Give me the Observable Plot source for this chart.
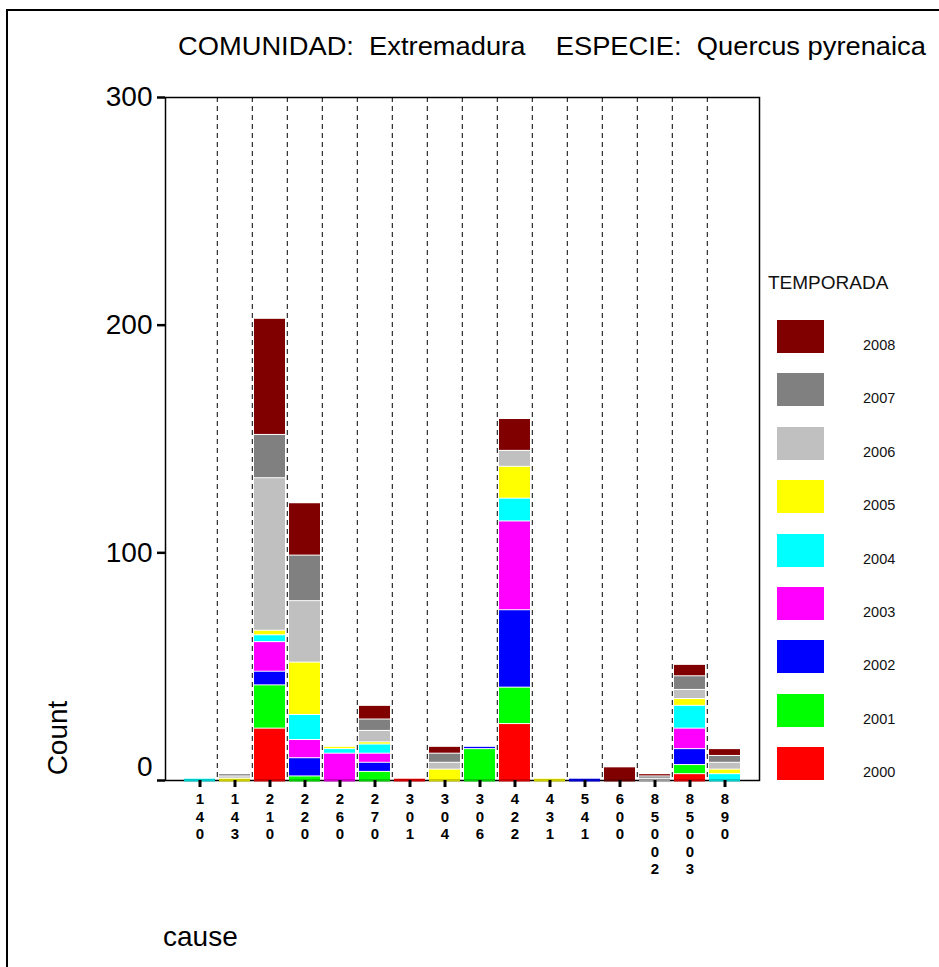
<!DOCTYPE html>
<html>
<head>
<meta charset="utf-8">
<script src="https://cdn.jsdelivr.net/npm/d3@7"></script>
<script src="https://cdn.jsdelivr.net/npm/@observablehq/plot@0.6"></script>
<style>
  body { margin: 0; background: #fff; font-family: Arial, "Liberation Sans", sans-serif; }
  #page { position: relative; width: 939px; height: 967px; overflow: hidden; background: #fff; }
  #border { position: absolute; left: 6px; top: 9px; width: 2000px; height: 2000px; border-left: 2px solid #000; border-top: 2px solid #000; }
  #chart { position: absolute; left: 0; top: 0; }
  #title { position: absolute; left: 178px; top: 31px; font-size: 26px; white-space: pre; color: #000; transform: scaleX(1.05); transform-origin: left center; }
  #ylab { position: absolute; left: 58px; top: 738px; font-size: 28px; transform: translate(-50%, -50%) rotate(-90deg); white-space: pre; }
  #xlab { position: absolute; left: 163px; top: 921px; font-size: 28px; white-space: pre; }
  #legend { position: absolute; left: 768px; top: 272px; }
  #legend .lt { font-size: 19px; height: 48px; color: #111; }
  #legend .item { position: relative; height: 53.4px; }
  #legend .sw { position: absolute; left: 9px; top: 0; width: 47px; height: 33px; }
  #legend .lab { position: absolute; left: 95px; top: 17px; font-size: 14.5px; color: #111; }
</style>
</head>
<body>
<div id="page">
  <div id="border"></div>
  <div id="chart"></div>
  <div id="title">COMUNIDAD:  Extremadura    ESPECIE:  Quercus pyrenaica</div>
  <div id="ylab">Count</div>
  <div id="xlab">cause</div>
  <div id="legend"></div>
</div>
<script>
// ---- data ----
const causes = ["140","143","210","220","260","270","301","304","306","422","431","541","600","85002","85003","890"];
const years = ["2000","2001","2002","2003","2004","2005","2006","2007","2008"];
const yearColors = ["#FF0000","#00FF00","#0000FF","#FF00FF","#00FFFF","#FFFF00","#C0C0C0","#808080","#800000"];
//                 140 143 210 220 260 270 301 304 306 422 431 541 600 85002 85003 890
const c2000 =     [  0,  0, 23,  0,  0,  0,  1,  0,  0, 25,  0,  0,  0,  0,  3,  0];
const c2001 =     [  0,  0, 19,  2,  0,  4,  0,  0, 14, 16,  0,  0,  0,  0,  4,  0];
const c2002 =     [  0,  0,  6,  8,  0,  4,  0,  0,  1, 34,  0,  1,  0,  0,  7,  0];
const c2003 =     [  0,  0, 13,  8, 12,  4,  0,  0,  0, 39,  0,  0,  0,  0,  9,  0];
const c2004 =     [  1,  0,  3, 11,  2,  4,  0,  0,  0, 10,  0,  0,  0,  0, 10,  3];
const c2005 =     [  0,  1,  2, 23,  1,  1,  0,  5,  0, 14,  1,  0,  0,  0,  3,  2];
const c2006 =     [  0,  1, 67, 27,  0,  5,  0,  3,  0,  7,  0,  0,  0,  1,  4,  3];
const c2007 =     [  0,  1, 19, 20,  0,  5,  0,  4,  0,  0,  0,  0,  0,  1,  6,  3];
const c2008 =     [  0,  0, 51, 23,  0,  6,  0,  3,  0, 14,  0,  0,  6,  1,  5,  3];
const yTicks = [0, 100, 200, 300];

const series = [c2000, c2001, c2002, c2003, c2004, c2005, c2006, c2007, c2008];
const data = [];
years.forEach((yr, j) => causes.forEach((c, i) => data.push({cause: c, year: yr, count: series[j][i]})));

// baseline colour per cause: first non-zero season, darkened
const bottoms = causes.map((c, i) => {
  const j = series.findIndex(s => s[i] > 0);
  return {cause: c, color: d3.color(yearColors[j]).darker(0.6).formatHex()};
});

// ---- layout ----
const W = 939, H = 967, mL = 165, mR = 180, mT = 97, mB = 187;
const pIn = 0.128, pOut = 0.45;
const step = (W - mL - mR) / (causes.length - pIn + 2 * pOut);

const chart = Plot.plot({
  width: W, height: H,
  marginLeft: mL, marginRight: mR, marginTop: mT, marginBottom: mB,
  style: {background: "transparent", fontFamily: "Arial, 'Liberation Sans', sans-serif", color: "#000"},
  x: {domain: causes, paddingInner: pIn, paddingOuter: pOut, label: null},
  y: {domain: [0, 300], label: null},
  color: {domain: years, range: yearColors},
  marks: [
    Plot.ruleX(causes.slice(1), {x: d => d, dx: -step / 2, stroke: "#000", strokeWidth: 1, strokeDasharray: "5,4"}),
    Plot.barY(data, {x: "cause", y: "count", fill: "year", insetTop: 1}),
    Plot.frame({stroke: "#000", strokeWidth: 1.5}),
    Plot.tickY(bottoms, {x: "cause", y: () => 0, stroke: "color", strokeWidth: 2}),
    Plot.axisX(causes, {tickSize: 7, strokeWidth: 3, tickPadding: 4, fontSize: 15, fontWeight: "bold",
      lineHeight: 1.17, tickFormat: d => d.split("").join("\n"), label: null}),
    Plot.axisY(yTicks, {tickSize: 8, strokeWidth: 2.5, tickFormat: () => "", label: null}),
    Plot.axisY(yTicks.slice(1), {tickSize: 0, tickPadding: 13, fontSize: 28, label: null}),
    Plot.axisY(yTicks.slice(0, 1), {tickSize: 0, tickPadding: 13, fontSize: 28, dy: -13, label: null})
  ]
});
document.getElementById("chart").appendChild(chart);

// ---- legend ----
const lg = document.getElementById("legend");
const lt = document.createElement("div"); lt.className = "lt"; lt.textContent = "TEMPORADA"; lg.appendChild(lt);
years.slice().reverse().forEach(yr => {
  const it = document.createElement("div"); it.className = "item";
  const sw = document.createElement("div"); sw.className = "sw"; sw.style.background = yearColors[years.indexOf(yr)];
  const lb = document.createElement("div"); lb.className = "lab"; lb.textContent = yr;
  it.appendChild(sw); it.appendChild(lb); lg.appendChild(it);
});
</script>
</body>
</html>
